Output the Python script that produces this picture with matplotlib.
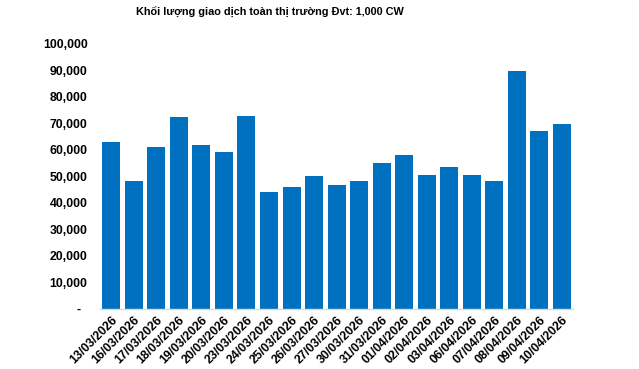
import matplotlib
matplotlib.use("Agg")
import matplotlib.pyplot as plt
from matplotlib.ticker import FuncFormatter

# Trading volume per session, unit 1,000 CW
dates = [
    "13/03/2026", "16/03/2026", "17/03/2026", "18/03/2026", "19/03/2026",
    "20/03/2026", "23/03/2026", "24/03/2026", "25/03/2026", "26/03/2026",
    "27/03/2026", "30/03/2026", "31/03/2026", "01/04/2026", "02/04/2026",
    "03/04/2026", "06/04/2026", "07/04/2026", "08/04/2026", "09/04/2026",
    "10/04/2026",
]
volumes = [
    62900, 48200, 61000, 72300, 61800,
    59100, 72700, 44000, 45900, 50100,
    46700, 48200, 55000, 58000, 50500,
    53500, 50500, 48200, 89700, 67100,
    69700,
]
y_ticks = list(range(0, 100001, 10000))

BAR_COLOR = "#0070C0"
FONT = "Liberation Sans"

fig = plt.figure(figsize=(6.39, 3.69), dpi=100)
ax = fig.add_axes([0.1565, 0.1634, 0.7405, 0.7182])

x = range(len(dates))
ax.bar(x, volumes, width=0.8, color=BAR_COLOR, zorder=2)

ax.set_xlim(-0.5, len(dates) - 0.5)
ax.set_ylim(0, 100000)
ax.set_yticks(y_ticks)


def fmt(v, _pos):
    if v == 0:
        return "-  "
    return f"{int(v):,}"


ax.yaxis.set_major_formatter(FuncFormatter(fmt))
ax.set_xticks(list(x))
ax.set_xticklabels(dates, rotation=45, ha="right", rotation_mode="anchor")

for lbl in ax.get_yticklabels() + ax.get_xticklabels():
    lbl.set_fontfamily(FONT)
    lbl.set_fontweight("bold")
    lbl.set_fontsize(8.8)
    lbl.set_color("#000000")

ax.tick_params(axis="y", length=0, pad=9)
ax.tick_params(axis="x", length=0, pad=4)

for side in ("top", "right", "left"):
    ax.spines[side].set_visible(False)
ax.spines["bottom"].set_color("#d9d9d9")
ax.spines["bottom"].set_linewidth(1.0)

fig.text(0.423, 0.965, "Khối lượng giao dịch toàn thị trường Đvt: 1,000 CW",
         ha="center", va="center", fontfamily=FONT,
         fontweight="bold", fontsize=7.8)

fig.savefig("out.png", dpi=100, facecolor="white")
